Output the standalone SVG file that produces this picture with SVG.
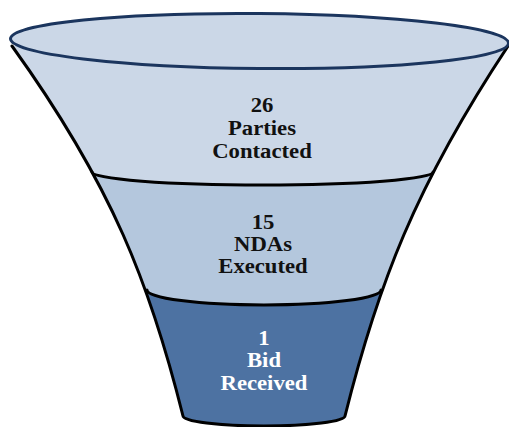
<svg xmlns="http://www.w3.org/2000/svg" width="509" height="427" viewBox="0 0 509 427">
  <style>
    .edge { fill: none; stroke: #000; stroke-width: 3; stroke-linejoin: round; stroke-linecap: round; }
    text { font-family: 'Liberation Serif', 'DejaVu Serif', serif; font-weight: bold; font-size: 20px; text-anchor: middle; }
    .dark { fill: #111; }
    .light { fill: #fff; }
  </style>
  <defs>
    <clipPath id="funnelClip">
      <path d="M12,46 C112.8,186 150.5,286 183,416 A81,10 0 0 0 345,416 C377.5,286 415.2,186 508,46 Z"/>
    </clipPath>
  </defs>
  <rect width="509" height="427" fill="#fff"/>

  <g id="stage-parties-contacted">
    <g clip-path="url(#funnelClip)">
      <rect x="0" y="30" width="509" height="400" fill="#CBD7E7"/>
    </g>
    <g transform="translate(262,0) scale(1.135,1)" font-family="Liberation Serif, serif">
      <text class="dark" x="0" y="112">26</text>
      <text class="dark" x="0" y="135">Parties</text>
      <text class="dark" x="0" y="158">Contacted</text>
    </g>
  </g>

  <g id="stage-ndas-executed">
    <g clip-path="url(#funnelClip)">
      <path d="M0,172 L92,172 A170.5,13 0 0 0 433,172 L509,172 L509,427 L0,427 Z" fill="#B4C7DD"/>
    </g>
    <g transform="translate(263,0) scale(1.135,1)" font-family="Liberation Serif, serif">
      <text class="dark" x="0" y="229">15</text>
      <text class="dark" x="0" y="251">NDAs</text>
      <text class="dark" x="0" y="273">Executed</text>
    </g>
  </g>

  <g id="stage-bid-received">
    <g clip-path="url(#funnelClip)">
      <path d="M0,290 L147,290 A117,15 0 0 0 381,290 L509,290 L509,427 L0,427 Z" fill="#4D72A2"/>
    </g>
    <g transform="translate(264,0) scale(1.135,1)" font-family="Liberation Serif, serif">
      <text class="light" x="0" y="345">1</text>
      <text class="light" x="0" y="367">Bid</text>
      <text class="light" x="0" y="390">Received</text>
    </g>
  </g>

  <g id="outlines">
    <path class="edge" d="M92,172 A170.5,13 0 0 0 433,172"/>
    <path class="edge" d="M147,290 A117,15 0 0 0 381,290"/>
    <path class="edge" d="M12,46 C112.8,186 150.5,286 183,416 A81,10 0 0 0 345,416 C377.5,286 415.2,186 508,46"/>
  </g>

  <g id="funnel-top">
    <ellipse cx="259.5" cy="41" rx="249" ry="27.5" transform="rotate(0.5 259.5 41)" fill="#CBD7E7" stroke="#1B355E" stroke-width="3"/>
  </g>
</svg>
